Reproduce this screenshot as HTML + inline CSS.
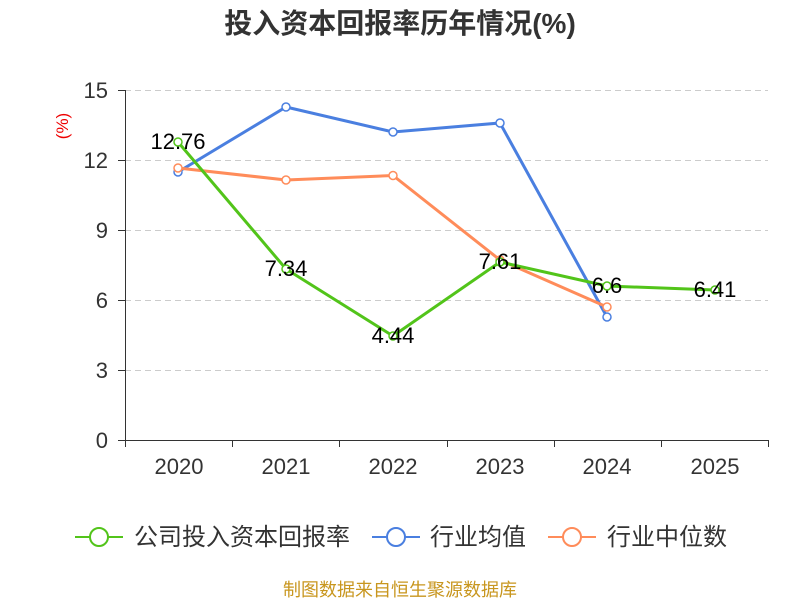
<!DOCTYPE html>
<html><head><meta charset="utf-8"><style>body{margin:0;background:#fff}svg{display:block}</style></head><body>
<svg width="800" height="600" xmlns="http://www.w3.org/2000/svg" font-family="Liberation Sans, Noto Sans CJK SC, sans-serif">
<text x="400" y="33" text-anchor="middle" font-size="28" font-weight="bold" fill="#333">投入资本回报率历年情况(%)</text>
<text transform="translate(68,126) rotate(-90)" text-anchor="middle" font-size="17" fill="#e00">(%)</text>
<g stroke="#ccc" stroke-dasharray="6,4" stroke-width="1">
<line x1="125" y1="90.5" x2="768" y2="90.5"/><line x1="125" y1="160.5" x2="768" y2="160.5"/><line x1="125" y1="230.5" x2="768" y2="230.5"/><line x1="125" y1="300.5" x2="768" y2="300.5"/><line x1="125" y1="370.5" x2="768" y2="370.5"/></g>
<g stroke="#333" stroke-width="1">
<line x1="125.5" y1="90" x2="125.5" y2="440"/><line x1="125" y1="440.5" x2="768" y2="440.5"/>
<line x1="118" y1="90.5" x2="125" y2="90.5"/><line x1="118" y1="160.5" x2="125" y2="160.5"/><line x1="118" y1="230.5" x2="125" y2="230.5"/><line x1="118" y1="300.5" x2="125" y2="300.5"/><line x1="118" y1="370.5" x2="125" y2="370.5"/><line x1="118" y1="440.5" x2="125" y2="440.5"/>
<line x1="125.5" y1="440" x2="125.5" y2="447"/><line x1="232.5" y1="440" x2="232.5" y2="447"/><line x1="339.5" y1="440" x2="339.5" y2="447"/><line x1="447.5" y1="440" x2="447.5" y2="447"/><line x1="554.5" y1="440" x2="554.5" y2="447"/><line x1="661.5" y1="440" x2="661.5" y2="447"/><line x1="768.5" y1="440" x2="768.5" y2="447"/></g>
<g font-size="22" fill="#333" text-anchor="end">
<text x="108" y="98">15</text><text x="108" y="168">12</text><text x="108" y="238">9</text><text x="108" y="308">6</text><text x="108" y="378">3</text><text x="108" y="448">0</text></g>
<g font-size="22" fill="#333" text-anchor="middle">
<text x="179" y="474">2020</text><text x="286" y="474">2021</text><text x="393" y="474">2022</text><text x="500" y="474">2023</text><text x="607" y="474">2024</text><text x="715" y="474">2025</text></g>
<g fill="#fff" stroke-width="1.5">
<polyline points="178,172 286,107 393,132 500,123 607,317" fill="none" stroke="#4a7fe0" stroke-width="3"/>
<g stroke="#4a7fe0"><circle cx="178" cy="172" r="4"/><circle cx="286" cy="107" r="4"/><circle cx="393" cy="132" r="4"/><circle cx="500" cy="123" r="4"/><circle cx="607" cy="317" r="4"/></g>
<polyline points="178,168 286,180 393,175.5 500,260 607,307" fill="none" stroke="#ff8c5a" stroke-width="3"/>
<g stroke="#ff8c5a"><circle cx="178" cy="168" r="4"/><circle cx="286" cy="180" r="4"/><circle cx="393" cy="175.5" r="4"/><circle cx="500" cy="260" r="4"/><circle cx="607" cy="307" r="4"/></g>
<polyline points="178,142 286,269 393,336 500,262 607,286 715,290" fill="none" stroke="#52c41a" stroke-width="3"/>
<g stroke="#52c41a"><circle cx="178" cy="142" r="4"/><circle cx="286" cy="269" r="4"/><circle cx="393" cy="336" r="4"/><circle cx="500" cy="262" r="4"/><circle cx="607" cy="286" r="4"/><circle cx="715" cy="290" r="4"/></g></g>
<g font-size="22" fill="#000" text-anchor="middle">
<text x="178" y="149">12.76</text><text x="286" y="276">7.34</text><text x="393" y="343">4.44</text><text x="500" y="269">7.61</text><text x="607" y="293">6.6</text><text x="715" y="297">6.41</text></g>
<g stroke-width="2" fill="#fff">
<line x1="75" y1="537" x2="123" y2="537" stroke="#52c41a"/><circle cx="99" cy="537" r="9" stroke="#52c41a"/>
<line x1="372" y1="537" x2="420" y2="537" stroke="#4a7fe0"/><circle cx="396" cy="537" r="9" stroke="#4a7fe0"/>
<line x1="548" y1="537" x2="596" y2="537" stroke="#ff8c5a"/><circle cx="572" cy="537" r="9" stroke="#ff8c5a"/></g>
<g font-size="24" fill="#333"><text x="134" y="545">公司投入资本回报率</text><text x="430" y="545">行业均值</text><text x="607" y="545">行业中位数</text></g>
<text x="400" y="596" text-anchor="middle" font-size="18" fill="#c8961e">制图数据来自恒生聚源数据库</text>
</svg></body></html>
